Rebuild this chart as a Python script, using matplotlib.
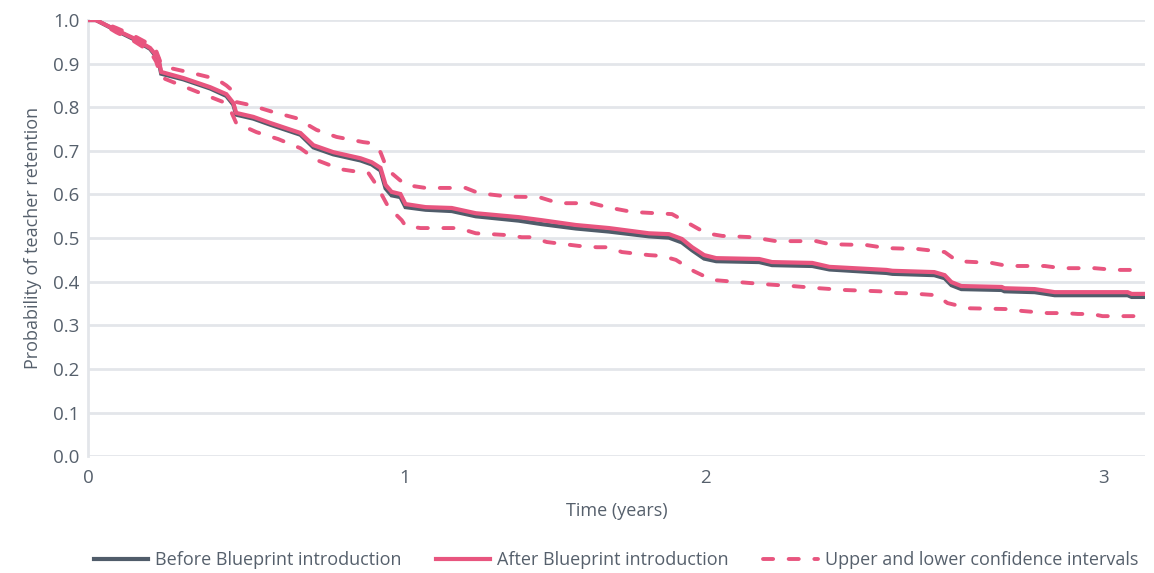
import numpy as np
import matplotlib.pyplot as plt

# Kaplan-Meier retention estimates (time in years)
after_years = [0, 0.025, 0.089, 0.142, 0.196, 0.222, 0.231, 0.301, 0.386, 0.437,
               0.459, 0.468, 0.522, 0.576, 0.671, 0.712, 0.775, 0.861, 0.896, 0.924,
               0.940, 0.959, 0.987, 1.003, 1.070, 1.157, 1.237, 1.380, 1.457, 1.570,
               1.680, 1.813, 1.880, 1.923, 1.957, 1.997, 2.028, 2.136, 2.168, 2.269,
               2.312, 2.455, 2.470, 2.575, 2.601, 2.618, 2.643, 2.744, 2.751, 2.827,
               2.877, 3.060, 3.070, 3.103]
after_prob = [1.000, 1.000, 0.977, 0.959, 0.936, 0.913, 0.881, 0.867, 0.846, 0.830,
              0.810, 0.787, 0.778, 0.764, 0.741, 0.713, 0.697, 0.683, 0.674, 0.661,
              0.622, 0.606, 0.601, 0.578, 0.571, 0.569, 0.557, 0.548, 0.541, 0.530,
              0.523, 0.511, 0.509, 0.498, 0.479, 0.461, 0.454, 0.452, 0.445, 0.443,
              0.434, 0.427, 0.425, 0.422, 0.415, 0.399, 0.390, 0.388, 0.385, 0.383,
              0.376, 0.376, 0.372, 0.372]

before_years = after_years
before_prob = [1.000, 1.000, 0.976, 0.957, 0.934, 0.910, 0.877, 0.864, 0.843, 0.826,
               0.806, 0.783, 0.774, 0.760, 0.737, 0.708, 0.692, 0.678, 0.669, 0.655,
               0.614, 0.598, 0.594, 0.571, 0.565, 0.562, 0.550, 0.540, 0.532, 0.522,
               0.515, 0.504, 0.501, 0.490, 0.472, 0.453, 0.447, 0.445, 0.438, 0.436,
               0.428, 0.420, 0.418, 0.415, 0.408, 0.392, 0.383, 0.381, 0.378, 0.376,
               0.369, 0.369, 0.365, 0.365]

upper_years = [0, 0.025, 0.089, 0.142, 0.196, 0.215, 0.228, 0.247, 0.332, 0.405,
               0.437, 0.453, 0.468, 0.513, 0.585, 0.658, 0.722, 0.785, 0.870, 0.892,
               0.924, 0.940, 0.959, 1.003, 1.070, 1.203, 1.247, 1.347, 1.447, 1.513,
               1.623, 1.680, 1.757, 1.890, 1.937, 2.003, 2.043, 2.118, 2.178, 2.279,
               2.312, 2.405, 2.455, 2.533, 2.601, 2.633, 2.719, 2.759, 2.852, 2.894,
               2.977, 3.028, 3.103]
upper_prob = [1.000, 1.000, 0.982, 0.965, 0.944, 0.930, 0.905, 0.892, 0.878, 0.865,
              0.850, 0.840, 0.812, 0.805, 0.789, 0.775, 0.748, 0.732, 0.720, 0.718,
              0.697, 0.667, 0.649, 0.622, 0.615, 0.615, 0.603, 0.595, 0.594, 0.580,
              0.580, 0.570, 0.560, 0.555, 0.537, 0.511, 0.505, 0.502, 0.493, 0.493,
              0.486, 0.484, 0.477, 0.475, 0.468, 0.447, 0.443, 0.436, 0.436, 0.431,
              0.431, 0.427, 0.427]

lower_years = [0, 0.025, 0.089, 0.142, 0.196, 0.215, 0.231, 0.237, 0.291, 0.364,
               0.427, 0.449, 0.468, 0.532, 0.601, 0.671, 0.722, 0.797, 0.861, 0.886,
               0.911, 0.949, 0.991, 1.003, 1.053, 1.180, 1.237, 1.337, 1.390, 1.423,
               1.473, 1.580, 1.640, 1.680, 1.723, 1.813, 1.857, 1.903, 1.963, 2.018,
               2.085, 2.153, 2.219, 2.286, 2.349, 2.437, 2.480, 2.518, 2.580, 2.608,
               2.663, 2.769, 2.794, 2.859, 2.902, 2.935, 2.970, 2.997, 3.103]
lower_prob = [1.000, 1.000, 0.972, 0.953, 0.928, 0.905, 0.870, 0.867, 0.851, 0.830,
              0.812, 0.795, 0.764, 0.743, 0.727, 0.706, 0.679, 0.658, 0.651, 0.649,
              0.622, 0.571, 0.541, 0.528, 0.523, 0.523, 0.511, 0.507, 0.502, 0.502,
              0.491, 0.482, 0.479, 0.479, 0.468, 0.461, 0.459, 0.450, 0.424, 0.404,
              0.399, 0.394, 0.390, 0.385, 0.381, 0.378, 0.374, 0.373, 0.369, 0.351,
              0.339, 0.337, 0.333, 0.328, 0.328, 0.326, 0.326, 0.321, 0.321]

year_ticks = [0, 1, 2, 3]

# The year labels are not evenly spaced along the axis, so map years to
# axis distance piecewise between the labelled positions
knot_years = [-1, 0, 1, 2, 3, 4]
knot_dist = [-316, 0, 316, 616, 1014, 1412]


def years_to_dist(x):
    return np.interp(x, knot_years, knot_dist)


def dist_to_years(d):
    return np.interp(d, knot_dist, knot_years)


PINK = '#e8557f'
SLATE = '#505c6a'
TEXT = '#56606c'
GRID = '#e3e6ea'

plt.rcParams['font.family'] = ['Open Sans', 'DejaVu Sans']

fig = plt.figure(figsize=(11.54, 5.73), dpi=100)
ax = fig.add_axes([0.0763, 0.204, 0.9157, 0.761])
ax.set_xscale('function', functions=(years_to_dist, dist_to_years))

ax.plot(before_years, before_prob, color=SLATE, lw=3.0, solid_joinstyle='miter',
        label='Before Blueprint introduction', zorder=3)
ax.plot(after_years, after_prob, color=PINK, lw=3.0, solid_joinstyle='miter',
        label='After Blueprint introduction', zorder=4)
ax.plot(upper_years, upper_prob, color=PINK, lw=2.8, dashes=(2.6, 4.0),
        dash_capstyle='round', label='Upper and lower confidence intervals', zorder=5)
ax.plot(lower_years, lower_prob, color=PINK, lw=2.8, dashes=(2.6, 4.0),
        dash_capstyle='round', zorder=5)

ax.set_xlim(0, 3.103)
ax.set_ylim(0, 1.0)
ax.set_xticks(year_ticks)
ax.set_xticklabels([str(t) for t in year_ticks])
ax.set_yticks(np.arange(0, 1.01, 0.1))
ax.set_yticklabels([f'{v:.1f}' for v in np.arange(0, 1.01, 0.1)])

ax.grid(axis='y', color=GRID, lw=2.0)
ax.set_axisbelow(True)
for side in ['top', 'right', 'bottom']:
    ax.spines[side].set_visible(False)
ax.spines['left'].set_color(GRID)
ax.spines['left'].set_linewidth(2.0)
ax.tick_params(axis='both', length=0, colors=TEXT, labelsize=13.5)
ax.tick_params(axis='y', pad=6)
ax.tick_params(axis='x', pad=9)

ax.set_xlabel('Time (years)', color=TEXT, fontsize=13, labelpad=11)
ax.set_ylabel('Probability of teacher retention', color=TEXT, fontsize=13, labelpad=8)

fig.legend(loc='center', bbox_to_anchor=(616 / 1154, 1 - 560 / 573), ncol=3,
           frameon=False, fontsize=13, labelcolor=TEXT, handlelength=3.0,
           handletextpad=0.4, columnspacing=1.9)

fig.savefig('out.png', dpi=100)
